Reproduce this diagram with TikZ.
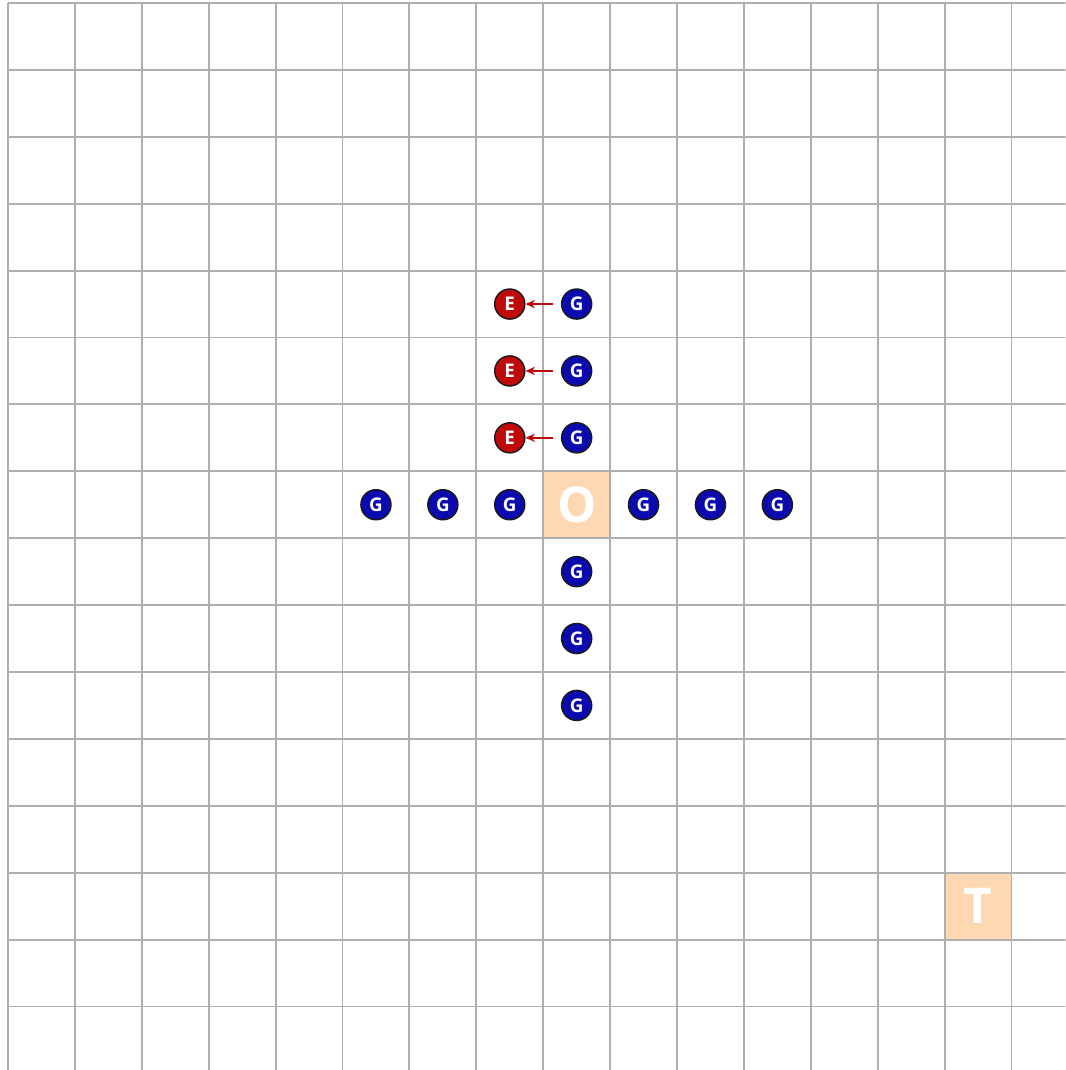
\documentclass[tikz,border=0pt]{standalone}
\usepackage{fontspec}
\setsansfont{Open Sans}
\usepackage{xcolor}
\usepackage{tikz}
\usetikzlibrary{arrows.meta, positioning}

\definecolor{gridgray}{RGB}{175,175,175}
\definecolor{peach}{RGB}{253,216,178}
\definecolor{agentblue}{RGB}{10,10,175}
\definecolor{enemyred}{RGB}{190,10,10}

\begin{document}
\begin{tikzpicture}[
  cell/.style={fill=peach, minimum size=1cm, inner sep=0pt, text=white,
               font=\sffamily\bfseries\fontsize{21}{21}\selectfont},
  goal/.style={circle, draw=black!90, line width=0.6pt, fill=agentblue, text=white,
               minimum size=0.45cm, inner sep=0pt, font=\sffamily\bfseries\fontsize{8}{8}\selectfont},
  enemy/.style={goal, fill=enemyred},
  arr/.style={-{Stealth[length=4pt,width=3.5pt]}, enemyred, line width=0.7pt, shorten <=0.12cm}
]
  \useasboundingbox (-0.12,0.045) rectangle (15.81,-15.95);
  \clip (-0.12,0.045) rectangle (15.81,-15.95);

  % start and target cells
  \node[cell] (start) at (8.5,-7.5) {O};
  \node[cell] (target) at (14.5,-13.5) {T};

  \draw[gridgray, line width=0.8pt] (0,0) grid (17,-17);

  % horizontal arm
  \node[goal] (gw3) at (5.5,-7.5) {G};
  \node[goal] (gw2) at (6.5,-7.5) {G};
  \node[goal] (gw1) at (7.5,-7.5) {G};
  \node[goal] (ge1) at (9.5,-7.5) {G};
  \node[goal] (ge2) at (10.5,-7.5) {G};
  \node[goal] (ge3) at (11.5,-7.5) {G};

  % vertical arm
  \node[goal] (gn3) at (8.5,-4.5) {G};
  \node[goal] (gn2) at (8.5,-5.5) {G};
  \node[goal] (gn1) at (8.5,-6.5) {G};
  \node[goal] (gs1) at (8.5,-8.5) {G};
  \node[goal] (gs2) at (8.5,-9.5) {G};
  \node[goal] (gs3) at (8.5,-10.5) {G};

  % enemies
  \node[enemy] (e3) at (7.5,-4.5) {E};
  \node[enemy] (e2) at (7.5,-5.5) {E};
  \node[enemy] (e1) at (7.5,-6.5) {E};

  \draw[arr] (gn3) -- (e3);
  \draw[arr] (gn2) -- (e2);
  \draw[arr] (gn1) -- (e1);
\end{tikzpicture}
\end{document}
